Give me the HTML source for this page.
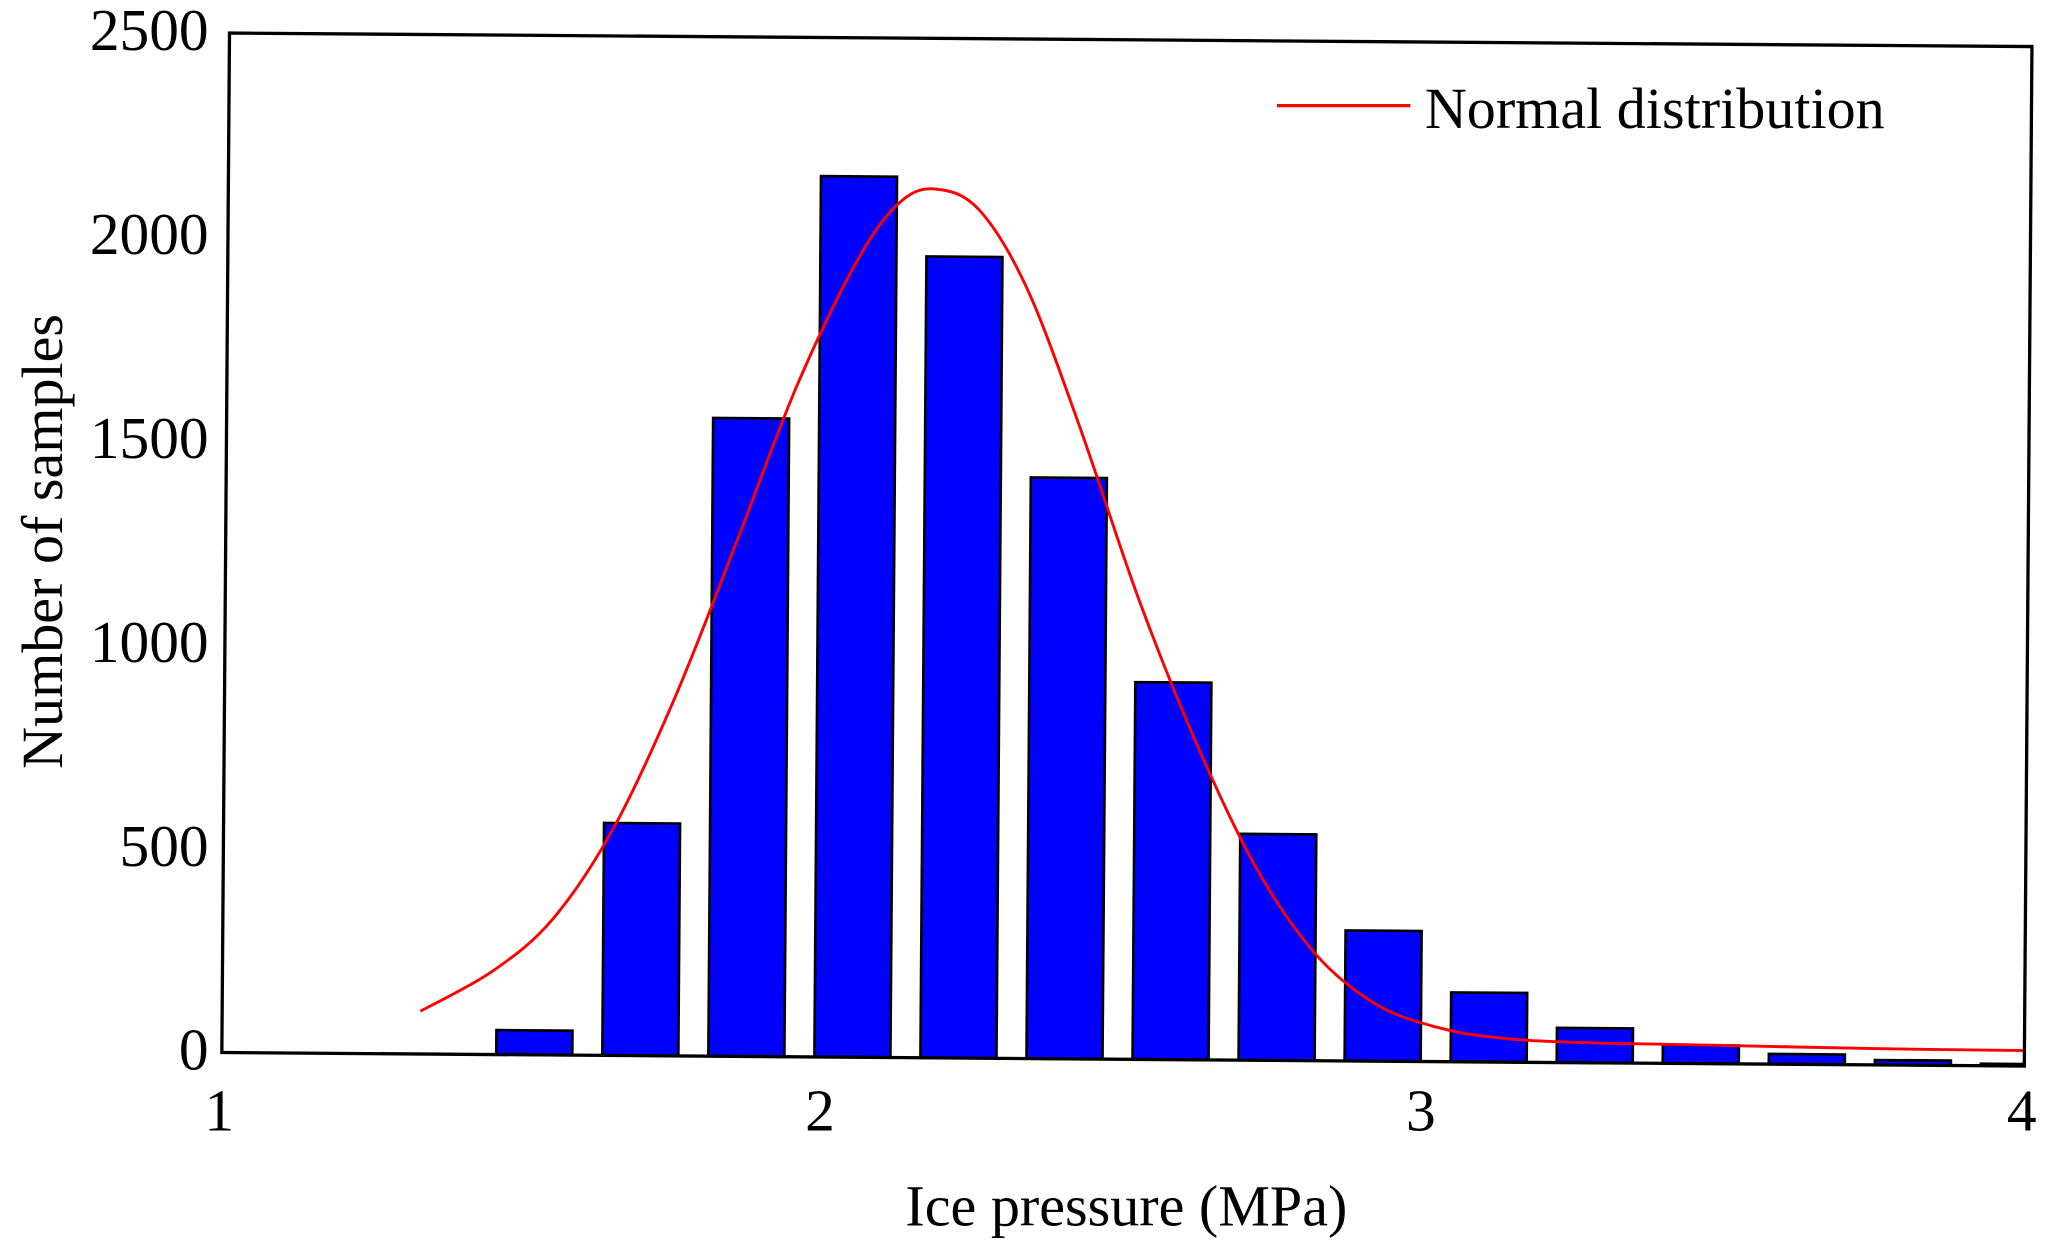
<!DOCTYPE html>
<html><head><meta charset="utf-8"><style>
html,body{margin:0;padding:0;background:#fff}
svg{display:block}
text{font-family:"Liberation Serif",serif;fill:#000}
</style></head><body>
<svg id="chart" width="2060" height="1244" viewBox="0 0 1560 942" preserveAspectRatio="none" xmlns="http://www.w3.org/2000/svg">
<defs><clipPath id="pc"><rect x="168" y="0" width="1365" height="900"/></clipPath></defs>
<g id="plot" transform="rotate(0.43 168 797)"></g>
<g id="labels"></g>
</svg>
<script>
const binCenters=[1.52,1.6965,1.873,2.0495,2.226,2.4025,2.579,2.7555,2.932,3.1085,3.285,3.4615,3.638,3.8145,3.991];
const counts=[60,570,1565,2160,1965,1425,925,555,320,170,85,45,25,12,5];
const curveX=[1.33,1.45,1.55,1.65,1.75,1.85,1.95,2.05,2.12,2.18,2.25,2.33,2.42,2.52,2.62,2.72,2.82,2.92,3.02,3.12,3.25,3.5,3.75,4.0];
const curveY=[105,205,335,560,880,1260,1650,1960,2100,2130,2080,1890,1550,1130,770,470,260,140,85,60,50,45,40,38];
const xTicks=[1,2,3,4];
const yTicks=[0,500,1000,1500,2000,2500];
const NS="http://www.w3.org/2000/svg";
const X0=168,Y0=797,PXX=455,PXY=0.3088;
const sx=v=>X0+(v-1)*PXX;
const sy=v=>Y0-v*PXY;
const plot=document.getElementById('plot');
const labels=document.getElementById('labels');
function mk(tag,attrs,parent){const e=document.createElementNS(NS,tag);for(const k in attrs)e.setAttribute(k,attrs[k]);parent.appendChild(e);return e;}
const bars=mk('g',{'clip-path':'url(#pc)'},plot);


const bw=0.1265*PXX;
binCenters.forEach((c,i)=>{
  const r=mk('rect',{x:sx(c)-bw/2,y:sy(counts[i]),width:bw,height:counts[i]*PXY,fill:'#0000ff',stroke:'#000','stroke-width':2},bars);
  
  
});
const pts=curveX.map((x,i)=>[sx(x),sy(curveY[i])]);
let d='M'+pts[0][0]+','+pts[0][1];
for(let i=0;i<pts.length-1;i++){
  const p0=pts[Math.max(0,i-1)],p1=pts[i],p2=pts[i+1],p3=pts[Math.min(pts.length-1,i+2)];
  const c1=[p1[0]+(p2[0]-p0[0])/6,p1[1]+(p2[1]-p0[1])/6];
  const c2=[p2[0]-(p3[0]-p1[0])/6,p2[1]-(p3[1]-p1[1])/6];
  d+='C'+c1.join(',')+' '+c2.join(',')+' '+p2.join(',');
}
const p=mk('path',{d:d,fill:'none',stroke:'#ff0000','stroke-width':2.2,'stroke-linejoin':'round'},plot);


const fr=mk('rect',{x:X0,y:sy(2500),width:3*PXX,height:2500*PXY,fill:'none',stroke:'#000','stroke-width':2.5},plot);


xTicks.forEach((t,i)=>{
  const e=mk('text',{x:sx(t)-2,y:856,'font-size':45,'text-anchor':'middle'},labels);
  e.textContent=t;
  
  
});
yTicks.forEach(t=>{
  const e=mk('text',{x:158,y:sy(t)+13,'font-size':45,'text-anchor':'end'},labels);
  e.textContent=t;
  
  
});
const xt=mk('text',{x:853,y:928,'font-size':44,'text-anchor':'middle'},labels);
xt.textContent='Ice pressure (MPa)';


const yt=mk('text',{x:0,y:0,'font-size':44,'text-anchor':'middle',transform:'translate(47 410) rotate(-90)'},labels);
yt.textContent='Number of samples';


const lg=mk('g',{},labels);


mk('line',{x1:967,y1:80,x2:1068,y2:80,stroke:'#ff0000','stroke-width':2.5},lg);
const lt=mk('text',{x:1079,y:97,'font-size':44},lg);
lt.textContent='Normal distribution';
</script>
</body></html>
